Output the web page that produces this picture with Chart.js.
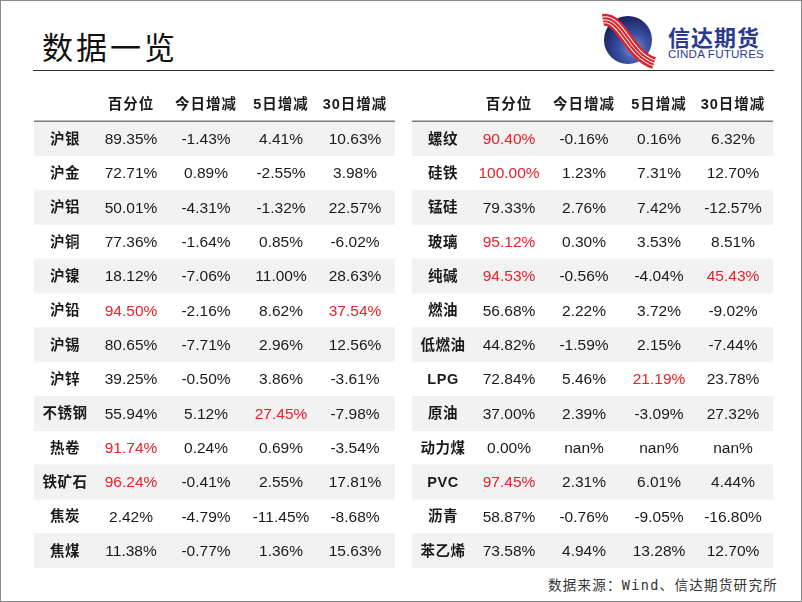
<!DOCTYPE html>
<html>
<head>
<meta charset="utf-8">
<script src="https://cdn.jsdelivr.net/npm/chart.js@4.4.1/dist/chart.umd.min.js"></script>
<style>
    html, body { margin: 0; padding: 0; background: #fff; }
    #page {
        position: relative; width: 800px; height: 600px;
        border: 1px solid #8a8a8a; overflow: hidden;
        font-family: "Noto Sans CJK SC", sans-serif;
    }
    #title {
        position: absolute; left: 41px; top: 22px;
        font-size: 31px; letter-spacing: 3px; color: #111;
    }
    #rule {
        position: absolute; left: 32px; top: 69px; width: 741px;
        height: 0; border-top: 1.5px solid #333;
    }
    #logo { position: absolute; left: 598px; top: 12px; }
    #brand {
        position: absolute; left: 667px; top: 24px; line-height: 22px;
        font-size: 22px; font-weight: 700; color: #2b3a8f; letter-spacing: 1px;
    }
    #brandEn {
        position: absolute; left: 667px; top: 47px; line-height: 12px;
        font-family: "Liberation Sans", Arial, sans-serif;
        font-size: 11.6px; color: #2b3a8f; letter-spacing: 0.2px;
    }
    .tbl { position: absolute; top: 86px; }
    #source {
        position: absolute; right: 23px; top: 573px;
        font-family: "DejaVu Sans Mono", "Noto Sans CJK SC", monospace;
        font-size: 13.5px; letter-spacing: 1.3px; color: #333;
    }
</style>
</head>
<body>
<div id="page">
    <div id="title">数据一览</div>
    <div id="rule"></div>
    <svg id="logo" width="62" height="56" viewBox="0 0 62 56">
        <defs>
            <radialGradient id="ball" cx="0.62" cy="0.68" r="0.7">
                <stop offset="0" stop-color="#7d8fcf"/>
                <stop offset="0.45" stop-color="#3a4ea3"/>
                <stop offset="1" stop-color="#16215e"/>
            </radialGradient>
        </defs>
        <circle cx="29" cy="27" r="24" fill="url(#ball)"/>
        <path d="M4 7 C 22 4, 30 42, 55 50" fill="none" stroke="#d7262e" stroke-width="12"/>
        <path d="M4 7 C 22 4, 30 42, 55 50" fill="none" stroke="#fff" stroke-width="7"/>
        <path d="M4 7 C 22 4, 30 42, 55 50" fill="none" stroke="#d7262e" stroke-width="5"/>
        <path d="M4 7 C 22 4, 30 42, 55 50" fill="none" stroke="#fff" stroke-width="1"/>
    </svg>
    <div id="brand">信达期货</div>
    <div id="brandEn">CINDA FUTURES</div>
    <canvas id="leftTable" class="tbl" style="left:33px" width="361" height="481"></canvas>
    <canvas id="rightTable" class="tbl" style="left:411px" width="361" height="481"></canvas>
    <div id="source">数据来源：Wind、信达期货研究所</div>
</div>
<script>
// Column headers
const headers = ['', '百分位', '今日增减', '5日增减', '30日增减'];

// Left table
const leftNames = ['沪银', '沪金', '沪铝', '沪铜', '沪镍', '沪铅', '沪锡', '沪锌', '不锈钢', '热卷', '铁矿石', '焦炭', '焦煤'];
const leftPct = [89.35, 72.71, 50.01, 77.36, 18.12, 94.50, 80.65, 39.25, 55.94, 91.74, 96.24, 2.42, 11.38];
const leftDay = [-1.43, 0.89, -4.31, -1.64, -7.06, -2.16, -7.71, -0.50, 5.12, 0.24, -0.41, -4.79, -0.77];
const left5d = [4.41, -2.55, -1.32, 0.85, 11.00, 8.62, 2.96, 3.86, 27.45, 0.69, 2.55, -11.45, 1.36];
const left30d = [10.63, 3.98, 22.57, -6.02, 28.63, 37.54, 12.56, -3.61, -7.98, -3.54, 17.81, -8.68, 15.63];

// Right table (null = nan)
const rightNames = ['螺纹', '硅铁', '锰硅', '玻璃', '纯碱', '燃油', '低燃油', 'LPG', '原油', '动力煤', 'PVC', '沥青', '苯乙烯'];
const rightPct = [90.40, 100.00, 79.33, 95.12, 94.53, 56.68, 44.82, 72.84, 37.00, 0.00, 97.45, 58.87, 73.58];
const rightDay = [-0.16, 1.23, 2.76, 0.30, -0.56, 2.22, -1.59, 5.46, 2.39, null, 2.31, -0.76, 4.94];
const right5d = [0.16, 7.31, 7.42, 3.53, -4.04, 3.72, 2.15, 21.19, -3.09, null, 6.01, -9.05, 13.28];
const right30d = [6.32, 12.70, -12.57, 8.51, 45.43, -9.02, -7.44, 23.78, 27.32, null, 4.44, -16.80, 12.70];

// highlight thresholds per value column (pct, today, 5d, 30d)
const redAt = [90, Infinity, 20, 30];

const colX = [31, 97, 172, 247, 321];   // column centres on the x scale
const TEXT = '#1a1a1a';
const RED = '#e8202a';

function fmt(v) {
    return v === null ? 'nan%' : v.toFixed(2) + '%';
}

const cellText = {
    id: 'cellText',
    afterDatasetsDraw(chart, args, opts) {
        const { ctx, scales: { x, y } } = chart;
        const rows = opts.rows;
        ctx.save();
        ctx.textBaseline = 'middle';
        ctx.textAlign = 'center';

        // header row
        const y0 = y.getPixelForValue(0) + 1;
        ctx.fillStyle = TEXT;
        ctx.font = 'bold 14.5px "Liberation Sans", "Noto Sans CJK SC"';
        ctx.letterSpacing = '1px';
        headers.forEach((h, c) => ctx.fillText(h, x.getPixelForValue(colX[c]), y0));

        // line under header
        const yl = (y.getPixelForValue(0) + y.getPixelForValue(1)) / 2;
        ctx.strokeStyle = '#7a7a7a';
        ctx.lineWidth = 1.5;
        ctx.beginPath();
        ctx.moveTo(x.left, yl);
        ctx.lineTo(x.right, yl);
        ctx.stroke();

        rows.names.forEach((name, i) => {
            const py = y.getPixelForValue(i + 1) + 1;
            ctx.font = 'bold 14.5px "Liberation Sans", "Noto Sans CJK SC"';
            ctx.letterSpacing = '0.5px';
            ctx.fillStyle = TEXT;
            ctx.fillText(name, x.getPixelForValue(colX[0]), py);

            ctx.font = '15.5px "Liberation Sans", Arial';
            ctx.letterSpacing = '0px';
            rows.cols.forEach((col, c) => {
                const v = col[i];
                ctx.fillStyle = (v !== null && v >= redAt[c]) ? RED : TEXT;
                ctx.fillText(fmt(v), x.getPixelForValue(colX[c + 1]), py);
            });
        });
        ctx.restore();
    }
};

function makeTable(canvasId, names, cols) {
    const labels = ['header'].concat(names);
    // shaded band on every other data row
    const bands = labels.map((_, i) => (i % 2 === 1 ? [0, 361] : null));

    new Chart(document.getElementById(canvasId), {
        type: 'bar',
        data: {
            labels: labels,
            datasets: [{
                data: bands,
                backgroundColor: '#f2f2f2',
                barPercentage: 1,
                categoryPercentage: 1,
                borderWidth: 0
            }]
        },
        options: {
            indexAxis: 'y',
            responsive: false,
            animation: false,
            devicePixelRatio: 1,
            layout: { padding: 0 },
            plugins: {
                legend: { display: false },
                tooltip: { enabled: false },
                cellText: { rows: { names: names, cols: cols } }
            },
            scales: {
                x: { type: 'linear', min: 0, max: 361, display: false },
                y: { type: 'category', display: false }
            }
        },
        plugins: [cellText]
    });
}

makeTable('leftTable', leftNames, [leftPct, leftDay, left5d, left30d]);
makeTable('rightTable', rightNames, [rightPct, rightDay, right5d, right30d]);
</script>
</body>
</html>
